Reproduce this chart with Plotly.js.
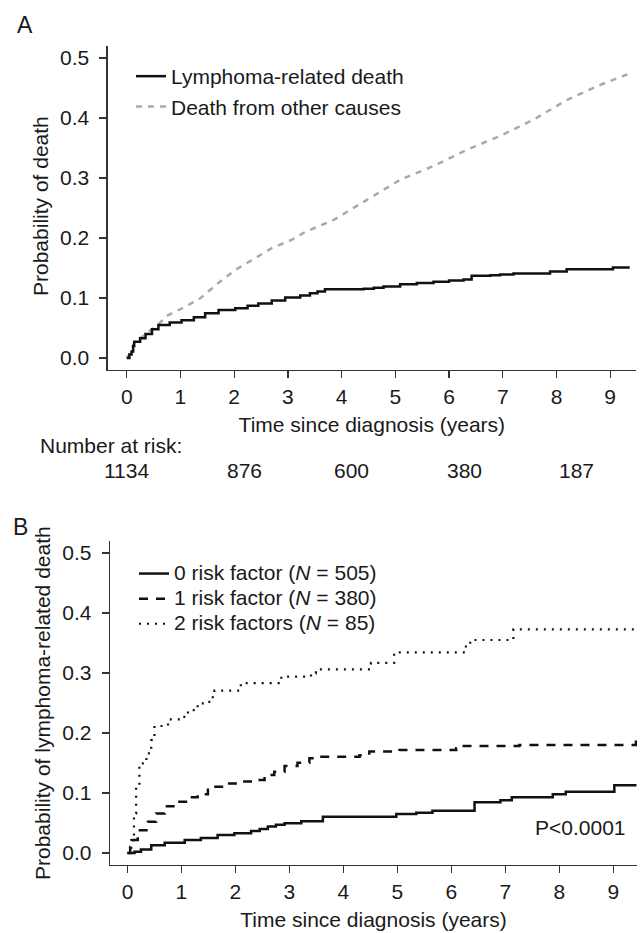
<!DOCTYPE html>
<html>
<head>
<meta charset="utf-8">
<script src="https://cdn.plot.ly/plotly-3.0.1.min.js"></script>
<style>html,body{margin:0;padding:0;background:#fff;}#chart{width:642px;height:933px;}</style>
</head>
<body>
<div id="chart"></div>
<script>
// ---------- DATA ----------
// Panel A: cumulative incidence
var lymphTime  = [0,0.05,0.09,0.12,0.14,0.25,0.35,0.47,0.59,0.8,1.02,1.25,1.46,1.71,2.02,2.25,2.45,2.7,2.95,3.23,3.41,3.55,3.69,4.41,4.6,4.78,5.09,5.4,5.71,6.0,6.27,6.42,6.77,6.95,7.2,7.88,8.19,9.05,9.34];
var lymphProb  = [0,0.006,0.011,0.02,0.027,0.033,0.04,0.048,0.055,0.059,0.063,0.068,0.0745,0.08,0.083,0.087,0.091,0.096,0.101,0.104,0.108,0.111,0.1145,0.1155,0.117,0.119,0.123,0.125,0.127,0.129,0.131,0.137,0.138,0.139,0.141,0.144,0.148,0.151,0.153];
var otherTime  = [0,0.05,0.09,0.14,0.25,0.47,0.59,0.74,1.09,1.37,1.71,2.02,2.33,2.7,3.07,3.32,3.85,4.47,5.09,5.71,6.33,6.95,7.57,8.19,8.81,9.37];
var otherProb  = [0,0.006,0.011,0.027,0.033,0.048,0.056,0.07,0.0855,0.0995,0.1255,0.1467,0.163,0.183,0.197,0.21,0.23,0.263,0.297,0.32,0.347,0.37,0.397,0.43,0.455,0.4745];
var seriesNamesA = ["Lymphoma-related death", "Death from other causes"];

var riskLabel = "Number at risk:";
var atRisk = [1134, 876, 600, 380, 187];

// Panel B: lymphoma-related death by number of risk factors
var rf0Time = [0,0.13,0.25,0.44,0.69,1.06,1.36,1.67,1.98,2.29,2.45,2.6,2.75,2.91,3.22,3.62,4.98,5.35,5.65,6.43,6.91,7.12,7.88,8.12,9.02,9.43];
var rf0Prob = [0,0.002,0.006,0.013,0.017,0.0217,0.025,0.03,0.033,0.0367,0.04,0.044,0.047,0.0495,0.053,0.0605,0.065,0.067,0.0705,0.0845,0.088,0.093,0.098,0.102,0.113,0.113];
var rf1Time = [0,0.05,0.1,0.19,0.38,0.53,0.69,0.9,1.12,1.3,1.49,1.8,2.04,2.35,2.54,2.72,2.91,3.15,3.37,3.56,4.3,4.48,5.04,6.09,6.18,7.26,9.42];
var rf1Prob = [0,0.01,0.0217,0.038,0.052,0.066,0.078,0.0855,0.093,0.098,0.1105,0.116,0.119,0.1217,0.13,0.1355,0.145,0.1505,0.158,0.1605,0.163,0.169,0.1717,0.1745,0.1783,0.18,0.188];
var rf2Time = [0,0.07,0.12,0.16,0.22,0.35,0.44,0.5,0.75,0.99,1.12,1.3,1.43,1.58,1.61,2.1,2.85,3.4,3.49,4.51,4.94,6.27,6.35,7.15,9.43];
var rf2Prob = [0,0.0217,0.066,0.11,0.1495,0.166,0.188,0.2117,0.2228,0.227,0.238,0.2495,0.252,0.266,0.2705,0.283,0.294,0.2995,0.306,0.317,0.3345,0.348,0.355,0.3728,0.3728];
var seriesNamesB = ["0 risk factor (<i>N</i> = 505)", "1 risk factor (<i>N</i> = 380)", "2 risk factors (<i>N</i> = 85)"];
var pText = "P<0.0001";

var xTicks = [0,1,2,3,4,5,6,7,8,9];
var yTicks = [0,0.1,0.2,0.3,0.4,0.5];

// ---------- LAYOUT CONSTANTS ----------
var W = 642, H = 933;
var FONT = "Liberation Sans, Arial, Helvetica, sans-serif";
var riskLabelX = [0, 2.2, 4.18, 6.28, 8.37];
function px(x){ return x / W; }
function py(y){ return 1 - y / H; }

var traces = [
  {x: otherTime, y: otherProb, name: seriesNamesA[1], type: "scatter", mode: "lines",
   line: {shape: "linear", color: "#a9a9a9", width: 2.5, dash: "6px,6px"}, xaxis: "x", yaxis: "y", legend: "legend", legendrank: 2},
  {x: lymphTime, y: lymphProb, name: seriesNamesA[0], type: "scatter", mode: "lines",
   line: {shape: "hv", color: "#111111", width: 2.5}, xaxis: "x", yaxis: "y", legend: "legend", legendrank: 1},
  {x: rf0Time, y: rf0Prob, name: '<span style="font-size:21px">' + seriesNamesB[0] + '</span>', type: "scatter", mode: "lines",
   line: {shape: "hv", color: "#111111", width: 2.5}, xaxis: "x2", yaxis: "y2", legend: "legend2"},
  {x: rf1Time, y: rf1Prob, name: '<span style="font-size:21px">' + seriesNamesB[1] + '</span>', type: "scatter", mode: "lines",
   line: {shape: "hv", color: "#111111", width: 2.5, dash: "9px,8px"}, xaxis: "x2", yaxis: "y2", legend: "legend2"},
  {x: rf2Time, y: rf2Prob, name: '<span style="font-size:21px">' + seriesNamesB[2] + '</span>', type: "scatter", mode: "lines",
   line: {shape: "hv", color: "#111111", width: 2.2, dash: "2px,6px"}, xaxis: "x2", yaxis: "y2", legend: "legend2"}
];

function xAxis(domain, range, anchor) {
  return {domain: domain, range: range, anchor: anchor, tickvals: xTicks, ticks: "outside", ticklen: 7, tickwidth: 1.3,
    tickcolor: "#333", showline: true, linecolor: "#333", linewidth: 1.3, showgrid: false, zeroline: false,
    tickfont: {size: 21, family: FONT, color: "#1a1a1a"},
    title: {text: "Time since diagnosis (years)", font: {size: 21, family: FONT, color: "#1a1a1a"}, standoff: 10}};
}
function yAxis(domain, anchor) {
  return {domain: domain, range: [-0.02, 0.52], anchor: anchor, tickvals: yTicks, tickformat: ".1f",
    ticks: "outside", ticklabelposition: "outside", ticklabelstandoff: 6, ticklen: 7, tickwidth: 1.3, tickcolor: "#333",
    showline: true, linecolor: "#333", linewidth: 1.3,
    showgrid: false, zeroline: false, tickfont: {size: 21, family: FONT, color: "#1a1a1a"}};
}

var annFont = {size: 21, family: FONT, color: "#1a1a1a"};
var annotations = [
  {text: "A", xref: "paper", yref: "paper", x: px(15), y: py(25), xanchor: "left", yanchor: "middle", showarrow: false, font: {size: 23, family: FONT, color: "#1a1a1a"}},
  {text: "B", xref: "paper", yref: "paper", x: px(11), y: py(527), xanchor: "left", yanchor: "middle", showarrow: false, font: {size: 23, family: FONT, color: "#1a1a1a"}},
  {text: "Probability of death", xref: "paper", yref: "paper", x: px(41), y: py(206), textangle: -90, xanchor: "center", yanchor: "middle", showarrow: false, font: annFont},
  {text: "Probability of lymphoma-related death", xref: "paper", yref: "paper", x: px(42), y: py(703), textangle: -90, xanchor: "center", yanchor: "middle", showarrow: false, font: annFont},
  {text: riskLabel, xref: "paper", yref: "paper", x: px(38), y: py(445), xanchor: "left", yanchor: "middle", showarrow: false, font: annFont},
  {text: pText, xref: "paper", yref: "paper", x: px(628), y: py(827), xanchor: "right", yanchor: "middle", showarrow: false, font: annFont}
];
for (var i = 0; i < atRisk.length; i++) {
  annotations.push({text: String(atRisk[i]), xref: "x", yref: "paper", x: riskLabelX[i], y: py(470),
    xanchor: "center", yanchor: "middle", showarrow: false, font: annFont});
}

var layout = {
  width: W, height: H,
  margin: {l: 0, r: 0, t: 0, b: 0},
  paper_bgcolor: "#ffffff", plot_bgcolor: "#ffffff",
  font: {family: FONT, size: 21, color: "#1a1a1a"},
  xaxis: xAxis([px(107.7), px(636)], [-0.354, 9.48], "y"),
  yaxis: yAxis([py(370), py(46)], "x"),
  xaxis2: xAxis([px(110), px(637)], [-0.324, 9.44], "y2"),
  yaxis2: yAxis([py(865), py(541)], "x2"),
  showlegend: true,
  legend: {x: px(131), y: py(56), xanchor: "left", yanchor: "top", bgcolor: "rgba(0,0,0,0)", borderwidth: 0,
    font: {size: 21, family: FONT, color: "#1a1a1a"}, traceorder: "normal", itemwidth: 30},
  legend2: {x: px(134), y: py(556), xanchor: "left", yanchor: "top", bgcolor: "rgba(0,0,0,0)", borderwidth: 0,
    font: {size: 17, family: FONT, color: "#1a1a1a"}, traceorder: "normal", itemwidth: 30},
  annotations: annotations
};

Plotly.newPlot("chart", traces, layout, {displayModeBar: false, staticPlot: true});
</script>
</body>
</html>
